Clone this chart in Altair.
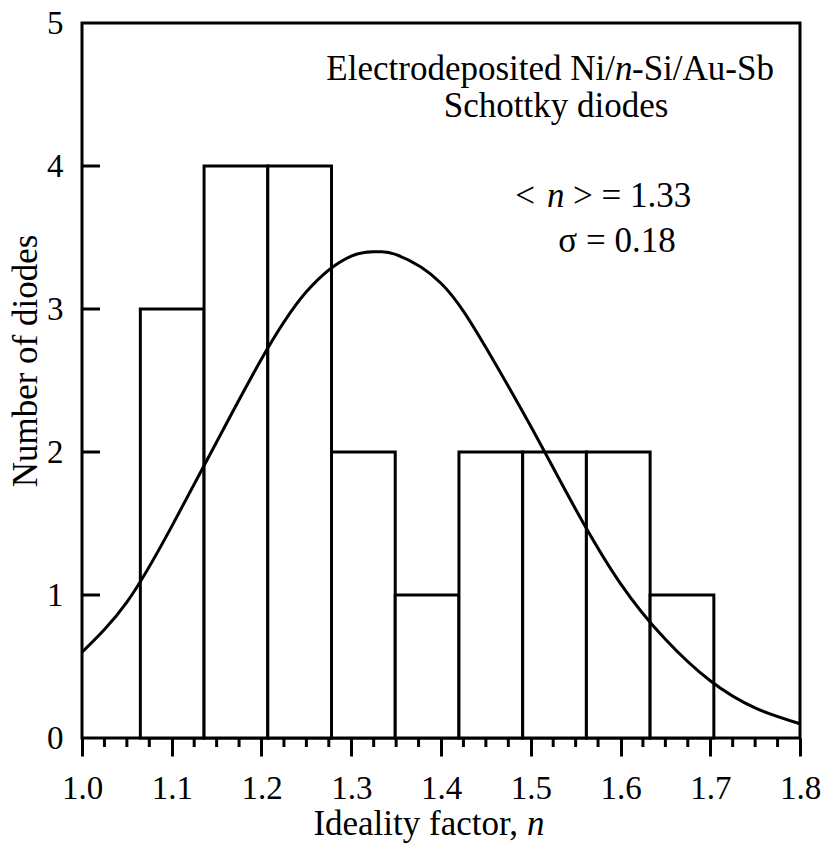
import altair as alt
import pandas as pd

# ---- data ----
bin_left = [1.065, 1.136, 1.207, 1.278, 1.349, 1.420, 1.491, 1.562, 1.633]
bin_right = [1.136, 1.207, 1.278, 1.349, 1.420, 1.491, 1.562, 1.633, 1.704]
counts = [3, 4, 4, 2, 1, 2, 2, 2, 1]

fit_x = [1.00, 1.05, 1.10, 1.15, 1.20, 1.25, 1.30, 1.33, 1.35, 1.40, 1.45,
         1.50, 1.55, 1.60, 1.65, 1.70, 1.75, 1.80]
fit_y = [0.60, 0.95, 1.48, 2.07, 2.65, 3.12, 3.37, 3.40, 3.38, 3.18, 2.73,
         2.18, 1.60, 1.08, 0.69, 0.40, 0.21, 0.10]

x_major = [1.0, 1.1, 1.2, 1.3, 1.4, 1.5, 1.6, 1.7, 1.8]
x_minor = [1.025, 1.05, 1.075, 1.125, 1.15, 1.175, 1.225, 1.25, 1.275,
           1.325, 1.35, 1.375, 1.425, 1.45, 1.475, 1.525, 1.55, 1.575,
           1.625, 1.65, 1.675, 1.725, 1.75, 1.775]
y_major = [0, 1, 2, 3, 4, 5]
y_inner = [1, 2, 3, 4]

FONT = "Liberation Serif"
W, H = 718, 715

xscale = alt.Scale(domain=[1.0, 1.8], nice=False, zero=False)
yscale = alt.Scale(domain=[0, 5], nice=False, zero=False)

bars_df = pd.DataFrame({"x0": bin_left, "x1": bin_right, "n": counts})
fit_df = pd.DataFrame({"x": fit_x, "y": fit_y})

bars = alt.Chart(bars_df).mark_rect(
    fill="white", stroke="black", strokeWidth=3
).encode(
    x=alt.X("x0:Q", scale=xscale,
            axis=alt.Axis(values=x_major, format=".1f", tickSize=18, tickWidth=3,
                          tickColor="black", domain=False, labelPadding=16,
                          labelFlush=False, labelOverlap=False,
                          grid=False, title=None, labelFont=FONT,
                          labelFontSize=33, labelColor="black")),
    x2="x1:Q",
    y=alt.Y("n:Q", scale=yscale,
            axis=alt.Axis(values=y_major, format="d", ticks=False, domain=False,
                          labelPadding=19, labelFlush=False, labelOverlap=False,
                          grid=False, title=None,
                          labelFont=FONT, labelFontSize=33, labelColor="black")),
    y2=alt.datum(0),
)

curve = alt.Chart(fit_df).mark_line(
    color="black", strokeWidth=3, interpolate="natural"
).encode(x=alt.X("x:Q", scale=xscale), y=alt.Y("y:Q", scale=yscale))

minor = alt.Chart(pd.DataFrame({"x": x_minor})).mark_rule(
    color="black", strokeWidth=3
).encode(x=alt.X("x:Q", scale=xscale), y=alt.value(H), y2=alt.value(H + 9))

yin = alt.Chart(pd.DataFrame({"y": y_inner})).mark_rule(
    color="black", strokeWidth=3
).encode(y=alt.Y("y:Q", scale=yscale), x=alt.value(0), x2=alt.value(18))


def txt(s, x, y, align="left", italic=False, angle=0, size=35):
    kw = dict(text=s, font=FONT, fontSize=size, align=align,
              baseline="alphabetic", color="black")
    if italic:
        kw["fontStyle"] = "italic"
    if angle:
        kw["angle"] = angle
    return alt.Chart(pd.DataFrame({"a": [0]})).mark_text(**kw).encode(
        x=alt.value(x), y=alt.value(y))


texts = [
    txt("Electrodeposited Ni/", 533, 57, align="right"),
    txt("n", 533, 57, italic=True),
    txt("-Si/Au-Sb", 550, 57),
    txt("Schottky diodes", 474, 94, align="center"),
    txt("<", 453, 184, align="right"),
    txt("n", 465, 184, italic=True),
    txt("> = 1.33", 491, 184),
    txt("σ = 0.18", 535, 229, align="center"),
    txt("Ideality factor,", 436, 812, align="right"),
    txt("n", 445, 812, italic=True),
    txt("Number of diodes", -45, 338, align="center", angle=270),
]

chart = alt.layer(bars, curve, minor, yin, *texts).properties(
    width=W, height=H,
    autosize=alt.AutoSizeParams(type="none"),
    padding={"left": 82, "top": 23, "right": 24, "bottom": 112},
    background="white",
).configure_view(stroke="black", strokeWidth=3)

chart.save("out.html", embed_options={"renderer": "svg", "actions": False})
